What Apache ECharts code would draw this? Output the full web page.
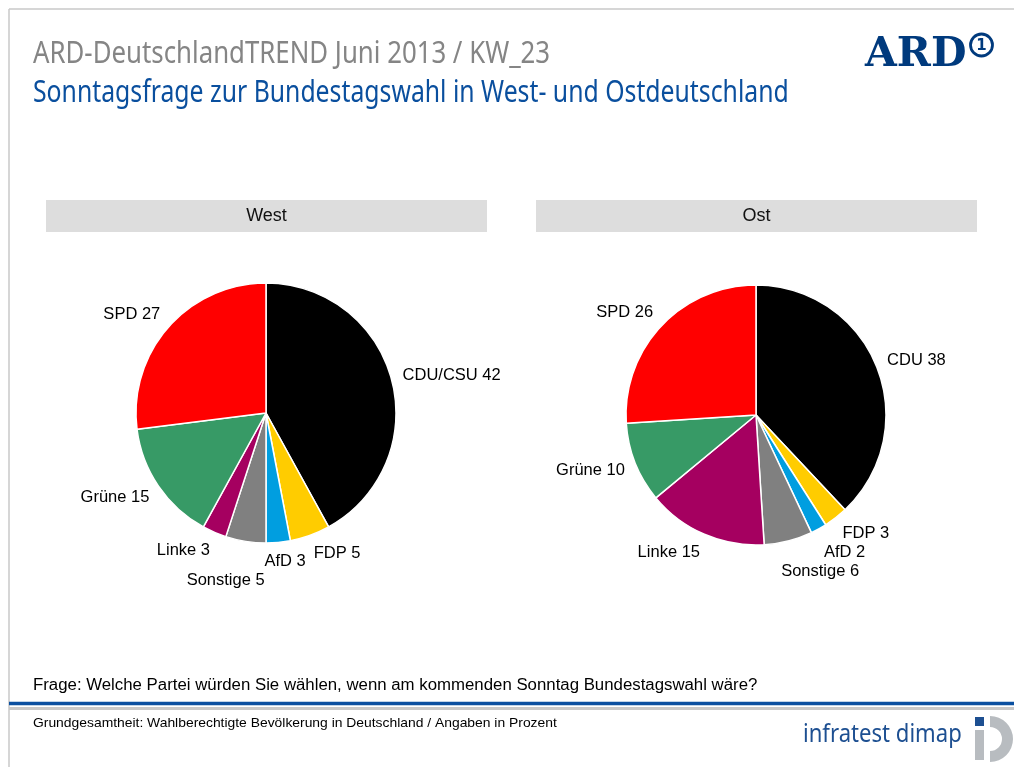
<!DOCTYPE html>
<html>
<head>
<meta charset="utf-8">
<script src="https://cdn.jsdelivr.net/npm/echarts@6/dist/echarts.min.js"></script>
<style>
  html, body { margin: 0; padding: 0; background: #fff; }
  #chart { width: 1014px; height: 767px; }
</style>
</head>
<body>
<div id="chart"></div>
<script>
// Sonntagsfrage, ARD-DeutschlandTREND Juni 2013 (Angaben in Prozent)
const westNames = ["CDU/CSU", "FDP", "AfD", "Sonstige", "Linke", "Grüne", "SPD"]
const westValues = [42, 5, 3, 5, 3, 15, 27]
const ostNames = ["CDU", "FDP", "AfD", "Sonstige", "Linke", "Grüne", "SPD"]
const ostValues = [38, 3, 2, 6, 15, 10, 26]
const regionTitles = ["West", "Ost"]

const PARTY_COLORS = ["#000000", "#FFCC00", "#009EE0", "#808080", "#A50060", "#379A66", "#FF0000"]
const ARD_BLUE = "#0A4F9E"
const LABEL_FONT = "Liberation Sans, Arial, sans-serif"

// Office-style outside labels: the box is pushed off a point just past the rim,
// sliding from corner- to edge-anchored as the slice gets close to an axis.
// Labels that would collide with an earlier one in the same pie move down.
const placed = {}
const officeLabel = (params) => {
  const pts = params.labelLinePoints
  if (!pts) return {}
  const s = params.seriesIndex
  if (params.dataIndex === 0 || !placed[s]) placed[s] = []
  const [p0, p1] = pts
  const len = Math.hypot(p1[0] - p0[0], p1[1] - p0[1]) || 1
  const dx = (p1[0] - p0[0]) / len
  const dy = (p1[1] - p0[1]) / len
  const clamp = (v) => Math.max(-1, Math.min(1, v))
  const w = params.labelRect.width
  const h = params.labelRect.height
  const x = p1[0] + (clamp(3 * dx) * w) / 2
  let y = p1[1] + (dy * h) / 2
  placed[s].forEach((r) => {
    if (Math.abs(x - r.x) < (w + r.w) / 2 && Math.abs(y - r.y) < (h + r.h) / 2) {
      y = r.y + (h + r.h) / 2 + 2
    }
  })
  placed[s].push({x, y, w, h})
  return {x, y, align: "center", verticalAlign: "middle"}
}

const pieSeries = (names, values, center) => ({
  type: "pie",
  center,
  radius: 130,
  startAngle: 90,
  clockwise: true,
  animation: false,
  avoidLabelOverlap: false,
  data: names.map((name, i) => ({name, value: values[i], itemStyle: {color: PARTY_COLORS[i]}})),
  itemStyle: {borderColor: "#fff", borderWidth: 1.5},
  label: {
    show: true,
    position: "outside",
    formatter: "{b} {c}",
    color: "#000",
    fontFamily: LABEL_FONT,
    fontSize: 16.5,
  },
  labelLine: {show: true, length: 11, length2: 0, lineStyle: {opacity: 0}},
  labelLayout: officeLabel,
  emphasis: {disabled: true},
})

const chart = echarts.init(document.getElementById("chart"))

const headerBar = (left, text) => [
  {type: "rect", shape: {x: left, y: 200, width: 441, height: 32}, style: {fill: "#DDDDDD"}, silent: true},
  {
    type: "text",
    x: left + 220.5,
    y: 216,
    style: {text, fill: "#111", font: `18px ${LABEL_FONT}`, align: "center", verticalAlign: "middle"},
  },
]

chart.setOption({
  animation: false,
  backgroundColor: "#fff",
  graphic: [
    // page frame
    {type: "line", shape: {x1: 9, y1: 9, x2: 1014, y2: 9}, style: {stroke: "#C8C8C8", lineWidth: 1.5}},
    {type: "line", shape: {x1: 9, y1: 9, x2: 9, y2: 767}, style: {stroke: "#C8C8C8", lineWidth: 1.5}},
    // heading
    {
      type: "text",
      x: 33,
      y: 54,
      scaleX: 0.86,
      style: {text: "ARD-DeutschlandTREND Juni 2013 / KW_23", fill: "#858585", font: "30px Noto Sans", verticalAlign: "middle"},
    },
    {
      type: "text",
      x: 33,
      y: 93,
      scaleX: 0.826,
      style: {
        text: "Sonntagsfrage zur Bundestagswahl in West- und Ostdeutschland",
        fill: ARD_BLUE,
        font: "30px Noto Sans",
        verticalAlign: "middle",
      },
    },
    // ARD logo
    {
      type: "text",
      x: 865,
      y: 55,
      style: {text: "ARD", fill: "#003A7D", font: "bold 41px DejaVu Serif", verticalAlign: "middle"},
    },
    {type: "circle", shape: {cx: 981.5, cy: 45, r: 11}, style: {fill: "none", stroke: "#003A7D", lineWidth: 2.8}},
    {
      type: "text",
      x: 981.5,
      y: 46,
      style: {text: "1", fill: "#003A7D", font: "bold 15px DejaVu Sans", align: "center", verticalAlign: "middle"},
    },
    // region headers
    ...headerBar(46, regionTitles[0]),
    ...headerBar(536, regionTitles[1]),
    // question + footer
    {
      type: "text",
      x: 33,
      y: 686,
      scaleX: 1.05,
      style: {
        text: "Frage: Welche Partei würden Sie wählen, wenn am kommenden Sonntag Bundestagswahl wäre?",
        fill: "#000",
        font: `16px ${LABEL_FONT}`,
        verticalAlign: "middle",
      },
    },
    {type: "line", shape: {x1: 9, y1: 703.5, x2: 1014, y2: 703.5}, style: {stroke: "#0A4FA0", lineWidth: 3.5}},
    {type: "line", shape: {x1: 9, y1: 708.5, x2: 1014, y2: 708.5}, style: {stroke: "#C8C8C8", lineWidth: 3}},
    {
      type: "text",
      x: 33,
      y: 723,
      scaleX: 1.067,
      style: {
        text: "Grundgesamtheit: Wahlberechtigte Bevölkerung in Deutschland / Angaben in Prozent",
        fill: "#000",
        font: `13px ${LABEL_FONT}`,
        verticalAlign: "middle",
      },
    },
    // infratest dimap logo
    {
      type: "text",
      x: 803,
      y: 735,
      scaleX: 0.85,
      style: {text: "infratest dimap", fill: "#1D4F91", font: "26px Noto Sans", verticalAlign: "middle"},
    },
    {type: "rect", shape: {x: 975, y: 717, width: 9, height: 9}, style: {fill: "#1D4F91"}},
    {type: "rect", shape: {x: 975, y: 730, width: 9, height: 30}, style: {fill: "#B8BCC0"}},
    {
      type: "sector",
      shape: {cx: 990, cy: 739, r: 23, r0: 12, startAngle: -Math.PI / 2, endAngle: Math.PI / 2},
      style: {fill: "#B8BCC0"},
    },
  ],
  series: [pieSeries(westNames, westValues, [266, 413]), pieSeries(ostNames, ostValues, [756, 415])],
})
</script>
</body>
</html>
